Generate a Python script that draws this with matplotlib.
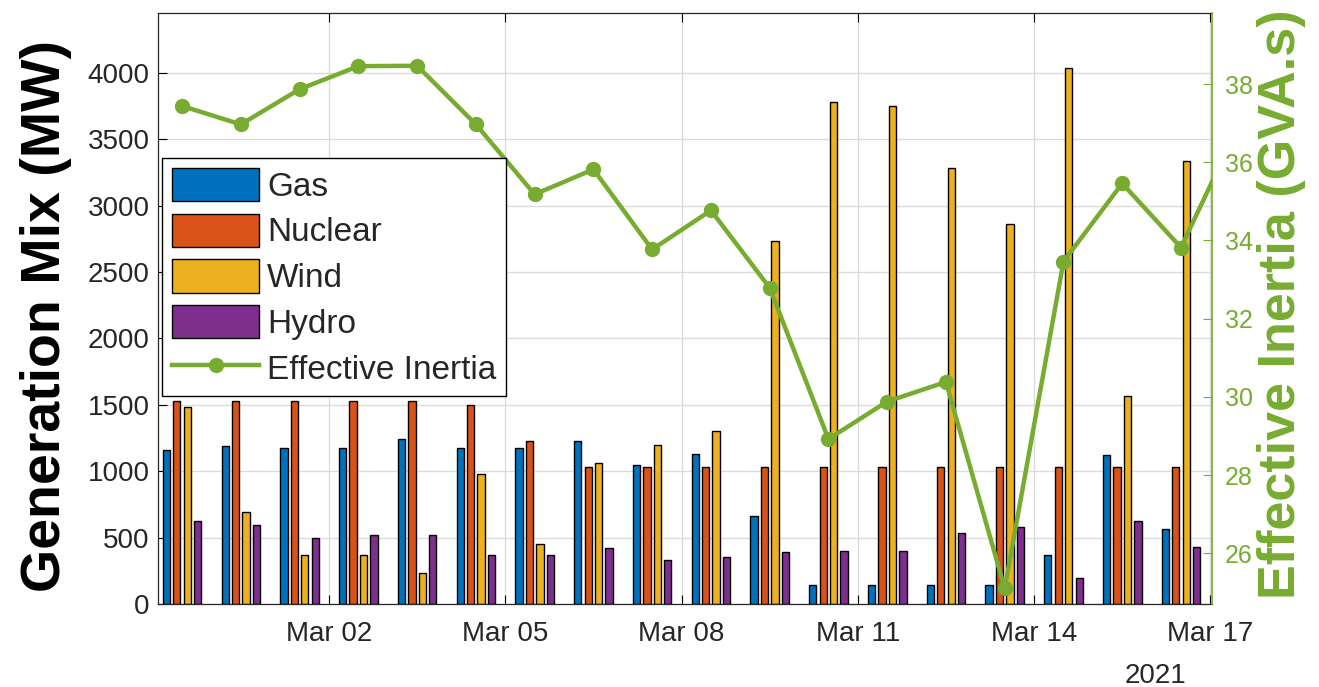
import matplotlib
matplotlib.use("Agg")
import matplotlib.pyplot as plt
import matplotlib.dates as mdates
import numpy as np
import pandas as pd

# daily generation mix (MW) and effective system inertia (GVA.s)
dates   = pd.date_range("2021-02-27 12:00", periods=18, freq="D")
gas     = [1162, 1192, 1175, 1175, 1243, 1175, 1175, 1225, 1050, 1130, 663, 143, 143, 143, 143, 370, 1125, 563]
nuclear = [1530, 1530, 1530, 1530, 1530, 1500, 1225, 1030, 1030, 1030, 1030, 1030, 1030, 1030, 1030, 1030, 1030, 1030]
wind    = [1480, 692, 367, 367, 237, 980, 450, 1063, 1195, 1305, 2730, 3780, 3750, 3285, 2858, 4035, 1568, 3337]
hydro   = [625, 595, 498, 517, 517, 370, 370, 418, 335, 355, 388, 400, 400, 532, 583, 193, 625, 430]

inertia_dates = pd.date_range("2021-02-27 12:00", periods=19, freq="D")
inertia = [37.44, 36.97, 37.87, 38.46, 38.47, 36.97, 35.18, 35.82, 33.77, 34.77,
           32.79, 28.92, 29.88, 30.38, 25.10, 33.46, 35.46, 33.82, 37.0]

series = [("Gas", gas, "#0072BD"), ("Nuclear", nuclear, "#D95319"),
          ("Wind", wind, "#EDB120"), ("Hydro", hydro, "#7E2F8E")]
GREEN = "#77AC30"
FONT = "Liberation Sans"

plt.rcParams["font.family"] = FONT

fig = plt.figure(figsize=(13.19, 6.87), dpi=100)
ax = fig.add_axes([158/1319, 1 - 604/687, (1212 - 158)/1319, (604 - 13)/687])
ax2 = ax.twinx()

x = mdates.date2num(dates)
step, width = 0.178, 0.124
handles = []
for i, (name, vals, col) in enumerate(series):
    b = ax.bar(x + (i - 1.5)*step, vals, width=width, color=col,
               edgecolor="black", linewidth=1.0, label=name, zorder=2)
    handles.append(b)

ln, = ax2.plot(mdates.date2num(inertia_dates), inertia, color=GREEN, lw=3.2,
               marker="o", ms=10, label="Effective Inertia", zorder=3)
handles.append(ln)

# left axis
ax.set_ylim(0, 4450)
ax.set_yticks(np.arange(0, 4001, 500))
ax.set_xlim(mdates.date2num(pd.Timestamp("2021-02-27 02:10")),
            mdates.date2num(pd.Timestamp("2021-03-17 00:40")))
ax.xaxis.set_major_locator(mdates.DayLocator(bymonthday=[2, 5, 8, 11, 14, 17]))
ax.xaxis.set_major_formatter(mdates.DateFormatter("%b %d"))
ax.grid(True, color="#dcdcdc", lw=1.0)
ax.set_axisbelow(True)
ax.tick_params(axis="both", direction="in", length=6.5, width=0.8,
               labelsize=20, labelcolor="#262626", top=True, right=False)
ax.tick_params(axis="x", pad=12)
ax.tick_params(axis="y", pad=6)
for s in ["left", "top", "bottom"]:
    ax.spines[s].set_color("#262626")
    ax.spines[s].set_linewidth(0.9)
ax.spines["right"].set_visible(False)
ax.set_ylabel("Generation Mix (MW)", fontsize=40, fontweight="bold", color="black")
ax.yaxis.set_label_coords(-0.082, 0.487)

# right axis
ax2.set_ylim(24.7, 39.82)
ax2.set_yticks(np.arange(26, 39, 2))
ax2.tick_params(axis="y", direction="in", length=6.5, width=0.8, colors=GREEN,
                labelsize=18, pad=9)
for s in ["left", "top", "bottom"]:
    ax2.spines[s].set_visible(False)
ax2.spines["right"].set_color(GREEN)
ax2.spines["right"].set_linewidth(1.2)
ax2.set_ylabel("Effective Inertia (GVA.s)", fontsize=37.5, fontweight="bold", color=GREEN)
ax2.yaxis.set_label_coords(1.043, 0.508)

leg = ax2.legend(handles=handles, loc="upper left", bbox_to_anchor=(0.004, 0.755),
                 borderaxespad=0, fontsize=24, frameon=True, fancybox=False,
                 framealpha=1, edgecolor="black", handlelength=2.6, handleheight=1.15,
                 handletextpad=0.25, labelspacing=0.33, borderpad=0.3)
leg.get_frame().set_linewidth(1.0)
for t in leg.get_texts():
    t.set_color("#262626")

fig.text(1155/1319, 1 - 676/687, "2021", fontsize=20, color="#262626",
         ha="center", va="center")

fig.savefig("out.png", dpi=100)
